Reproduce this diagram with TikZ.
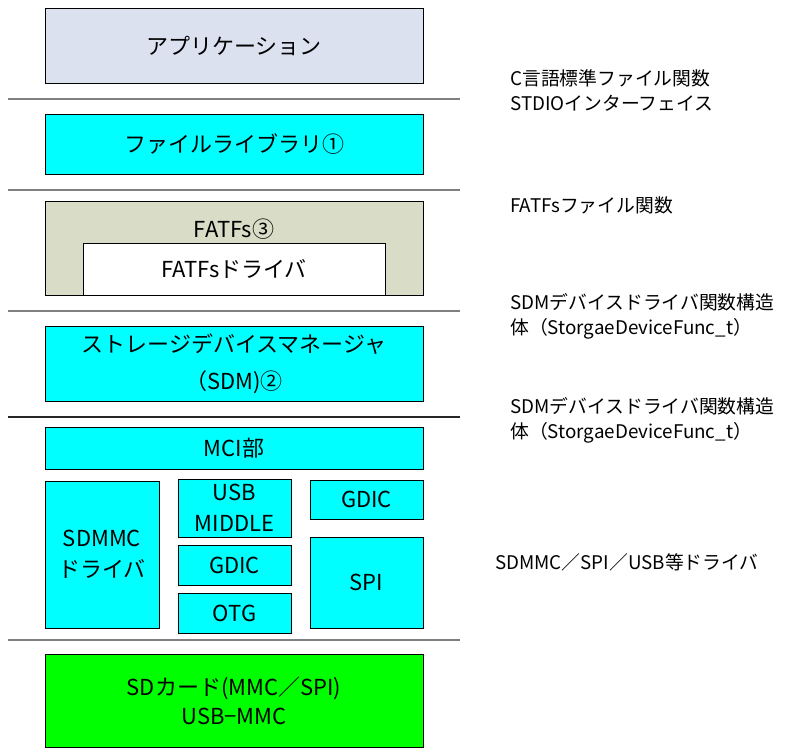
\documentclass[tikz,border=0pt]{standalone}
\usepackage{fontspec}
\setmainfont{Noto Sans CJK JP}
\definecolor{appfill}{HTML}{DCE1F0}
\definecolor{cyanfill}{HTML}{00FFFF}
\definecolor{fatfill}{HTML}{D9DCC6}
\definecolor{greenfill}{HTML}{00FF00}
\definecolor{sepgray}{HTML}{808080}
\tikzset{
  blk/.style={draw=black, line width=0.9pt, inner sep=0pt, outer sep=0pt, anchor=north west, align=center, font=\fontsize{22}{31}\selectfont},
  cyanblk/.style={blk, fill=cyanfill},
  sepline/.style={draw=sepgray, line width=1.6pt},
  note/.style={anchor=west, align=left, inner sep=0pt, font=\fontsize{18.8}{25}\selectfont}
}
\begin{document}
\begin{tikzpicture}[x=1pt, y=-1pt]
\useasboundingbox (0,0) rectangle (787,749);
% layers
\node[blk, fill=appfill, minimum width=378pt, minimum height=75pt] (app) at (45,8) {アプリケーション};
\draw[sepline] (8,99) -- (460,99);
\node[cyanblk, minimum width=378pt, minimum height=60pt] (filelib) at (45,114) {ファイルライブラリ①};
\draw[sepline] (8,190) -- (460,190);
\node[blk, fill=fatfill, minimum width=378pt, minimum height=94pt] (fatfs) at (45,201) {};
\node[blk, draw=none, anchor=center] (fatfslbl) at (234,229) {FATFs③};
\node[blk, fill=white, minimum width=302pt, minimum height=52pt] (fatdrv) at (83,243) {FATFsドライバ};
\draw[sepline] (8,311) -- (460,311);
\node[cyanblk, minimum width=378pt, minimum height=75pt, font=\fontsize{22}{37}\selectfont] (sdm) at (45,326) {ストレージデバイスマネージャ\\（SDM)②};
\draw[draw=black!85, line width=1.6pt] (8,417) -- (460,417);
\node[cyanblk, minimum width=378pt, minimum height=42pt] (mci) at (45,427) {MCI部};
\node[cyanblk, minimum width=114pt, minimum height=147pt] (sdmmc) at (45,481) {SDMMC\\ドライバ};
\node[cyanblk, minimum width=113pt, minimum height=58pt] (usbmid) at (178,479) {USB\\MIDDLE};
\node[cyanblk, minimum width=113pt, minimum height=40pt] (gdic1) at (178,545) {GDIC};
\node[cyanblk, minimum width=113pt, minimum height=40pt] (otg) at (178,593) {OTG};
\node[cyanblk, minimum width=113pt, minimum height=39pt] (gdic2) at (310,480) {GDIC};
\node[cyanblk, minimum width=113pt, minimum height=91pt] (spi) at (310,537) {SPI};
\draw[draw=sepgray, line width=1.2pt] (8,640) -- (460,640);
\node[blk, fill=greenfill, minimum width=378pt, minimum height=93pt, font=\fontsize{22}{29}\selectfont] (sd) at (45,654) {SDカード(MMC／SPI)\\USB−MMC};
% notes
\node[note] (n1) at (510,90) {C言語標準ファイル関数\\STDIOインターフェイス};
\node[note] (n2) at (510,205) {FATFsファイル関数};
\node[note] (n3) at (510,316) {SDMデバイスドライバ関数構造\\体（StorgaeDeviceFunc\_t）};
\node[note] (n4) at (510,420) {SDMデバイスドライバ関数構造\\体（StorgaeDeviceFunc\_t）};
\node[note] (n5) at (495,562) {SDMMC／SPI／USB等ドライバ};
\end{tikzpicture}
\end{document}
